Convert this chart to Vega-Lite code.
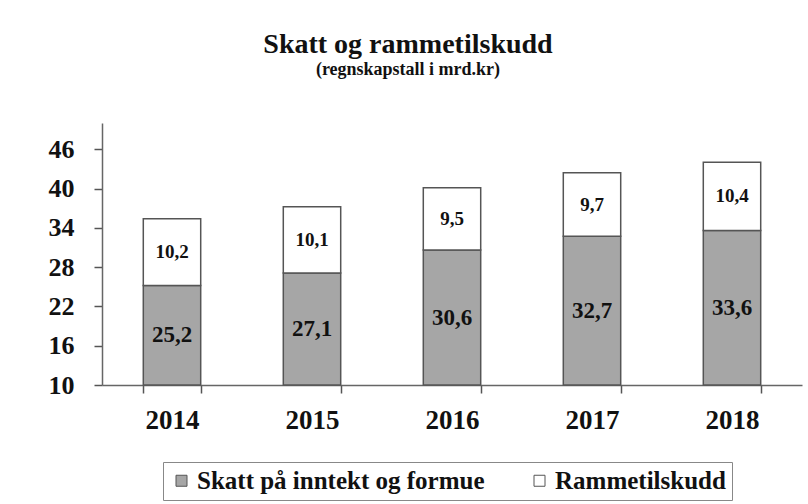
{
  "$schema": "https://vega.github.io/schema/vega-lite/v6.json",
  "width": 700,
  "height": 262,
  "autosize": {"type": "none"},
  "padding": {"left": 102, "top": 123, "right": 6, "bottom": 119},
  "background": "white",
  "title": {
    "text": "Skatt og rammetilskudd",
    "subtitle": "(regnskapstall i mrd.kr)",
    "font": "Liberation Serif",
    "fontSize": 28,
    "fontWeight": "bold",
    "color": "#111",
    "subtitleFont": "Liberation Serif",
    "subtitleFontSize": 18,
    "subtitleFontWeight": "bold",
    "subtitleColor": "#111",
    "subtitlePadding": 2,
    "anchor": "middle",
    "dx": -44,
    "offset": 44
  },
  "config": {
    "font": "Liberation Serif",
    "locale": {"number": {"decimal": ",", "thousands": " ", "grouping": [3], "currency": ["", " kr"]}},
    "view": {"stroke": null},
    "axis": {"grid": false, "domainColor": "#666", "domainWidth": 1.5, "tickColor": "#555", "tickWidth": 1.5, "labelFont": "Liberation Serif", "labelFontWeight": "bold", "labelColor": "#111"},
    "legend": {"labelFont": "Liberation Serif", "labelFontWeight": "bold"}
  },
  "resolve": {"scale": {"y": "independent"}},
  "data": {
    "values": [
      {"year": "2014", "serie": "Skatt på inntekt og formue", "k": 1, "value": 25.2},
      {"year": "2014", "serie": "Rammetilskudd", "k": 2, "value": 10.2},
      {"year": "2015", "serie": "Skatt på inntekt og formue", "k": 1, "value": 27.1},
      {"year": "2015", "serie": "Rammetilskudd", "k": 2, "value": 10.1},
      {"year": "2016", "serie": "Skatt på inntekt og formue", "k": 1, "value": 30.6},
      {"year": "2016", "serie": "Rammetilskudd", "k": 2, "value": 9.5},
      {"year": "2017", "serie": "Skatt på inntekt og formue", "k": 1, "value": 32.7},
      {"year": "2017", "serie": "Rammetilskudd", "k": 2, "value": 9.7},
      {"year": "2018", "serie": "Skatt på inntekt og formue", "k": 1, "value": 33.6},
      {"year": "2018", "serie": "Rammetilskudd", "k": 2, "value": 10.4}
    ]
  },
  "encoding": {
    "x": {
      "field": "year", "type": "nominal",
      "scale": {"paddingInner": 0.59, "paddingOuter": 0.295},
      "axis": {"title": null, "labelAngle": 0, "labelFontSize": 27, "tickBand": "extent", "tickSize": 8, "labelPadding": 14}
    }
  },
  "layer": [
    {
      "mark": {"type": "bar", "stroke": "#555", "strokeWidth": 1.5},
      "encoding": {
        "y": {
          "field": "value", "type": "quantitative", "stack": "zero",
          "scale": {"domain": [10, 50], "clamp": true, "nice": false, "zero": false},
          "axis": {"title": null, "values": [10, 16, 22, 28, 34, 40, 46], "labelFontSize": 26, "tickSize": 8, "labelPadding": 20}
        },
        "order": {"field": "k", "type": "quantitative"},
        "color": {
          "field": "serie", "type": "nominal",
          "scale": {"domain": ["Skatt på inntekt og formue", "Rammetilskudd"], "range": ["#a6a6a6", "#ffffff"]},
          "legend": {
            "title": null, "orient": "none", "legendX": 61, "legendY": 339, "direction": "horizontal",
            "symbolType": "square", "symbolSize": 121, "symbolStrokeColor": "#555", "symbolStrokeWidth": 1,
            "labelFont": "Liberation Serif", "labelFontWeight": "bold", "labelFontSize": 25, "labelColor": "#111", "labelLimit": 500,
            "columnPadding": 42, "padding": 6, "strokeColor": "#888", "fillColor": "white", "labelOffset": 3
          }
        }
      }
    },
    {
      "mark": {"type": "text", "font": "Liberation Serif", "fontWeight": "bold", "color": "#111", "baseline": "middle", "fontSize": 19},
      "encoding": {
        "y": {
          "field": "value", "type": "quantitative", "stack": "zero", "bandPosition": 0.5,
          "scale": {"domain": [10, 50], "nice": false, "zero": false}, "axis": null
        },
        "order": {"field": "k", "type": "quantitative"},
        "text": {"field": "value", "type": "quantitative", "format": ".1f"},
        "opacity": {"condition": {"test": "datum.k == 1", "value": 0}, "value": 1}
      }
    },
    {
      "transform": [{"filter": "datum.k == 1"}],
      "mark": {"type": "text", "font": "Liberation Serif", "fontWeight": "bold", "color": "#111", "baseline": "middle", "fontSize": 23},
      "encoding": {
        "y": {
          "field": "value", "type": "quantitative", "stack": null,
          "scale": {"domain": [10, 90], "nice": false, "zero": false}, "axis": null
        },
        "text": {"field": "value", "type": "quantitative", "format": ".1f"}
      }
    }
  ]
}
